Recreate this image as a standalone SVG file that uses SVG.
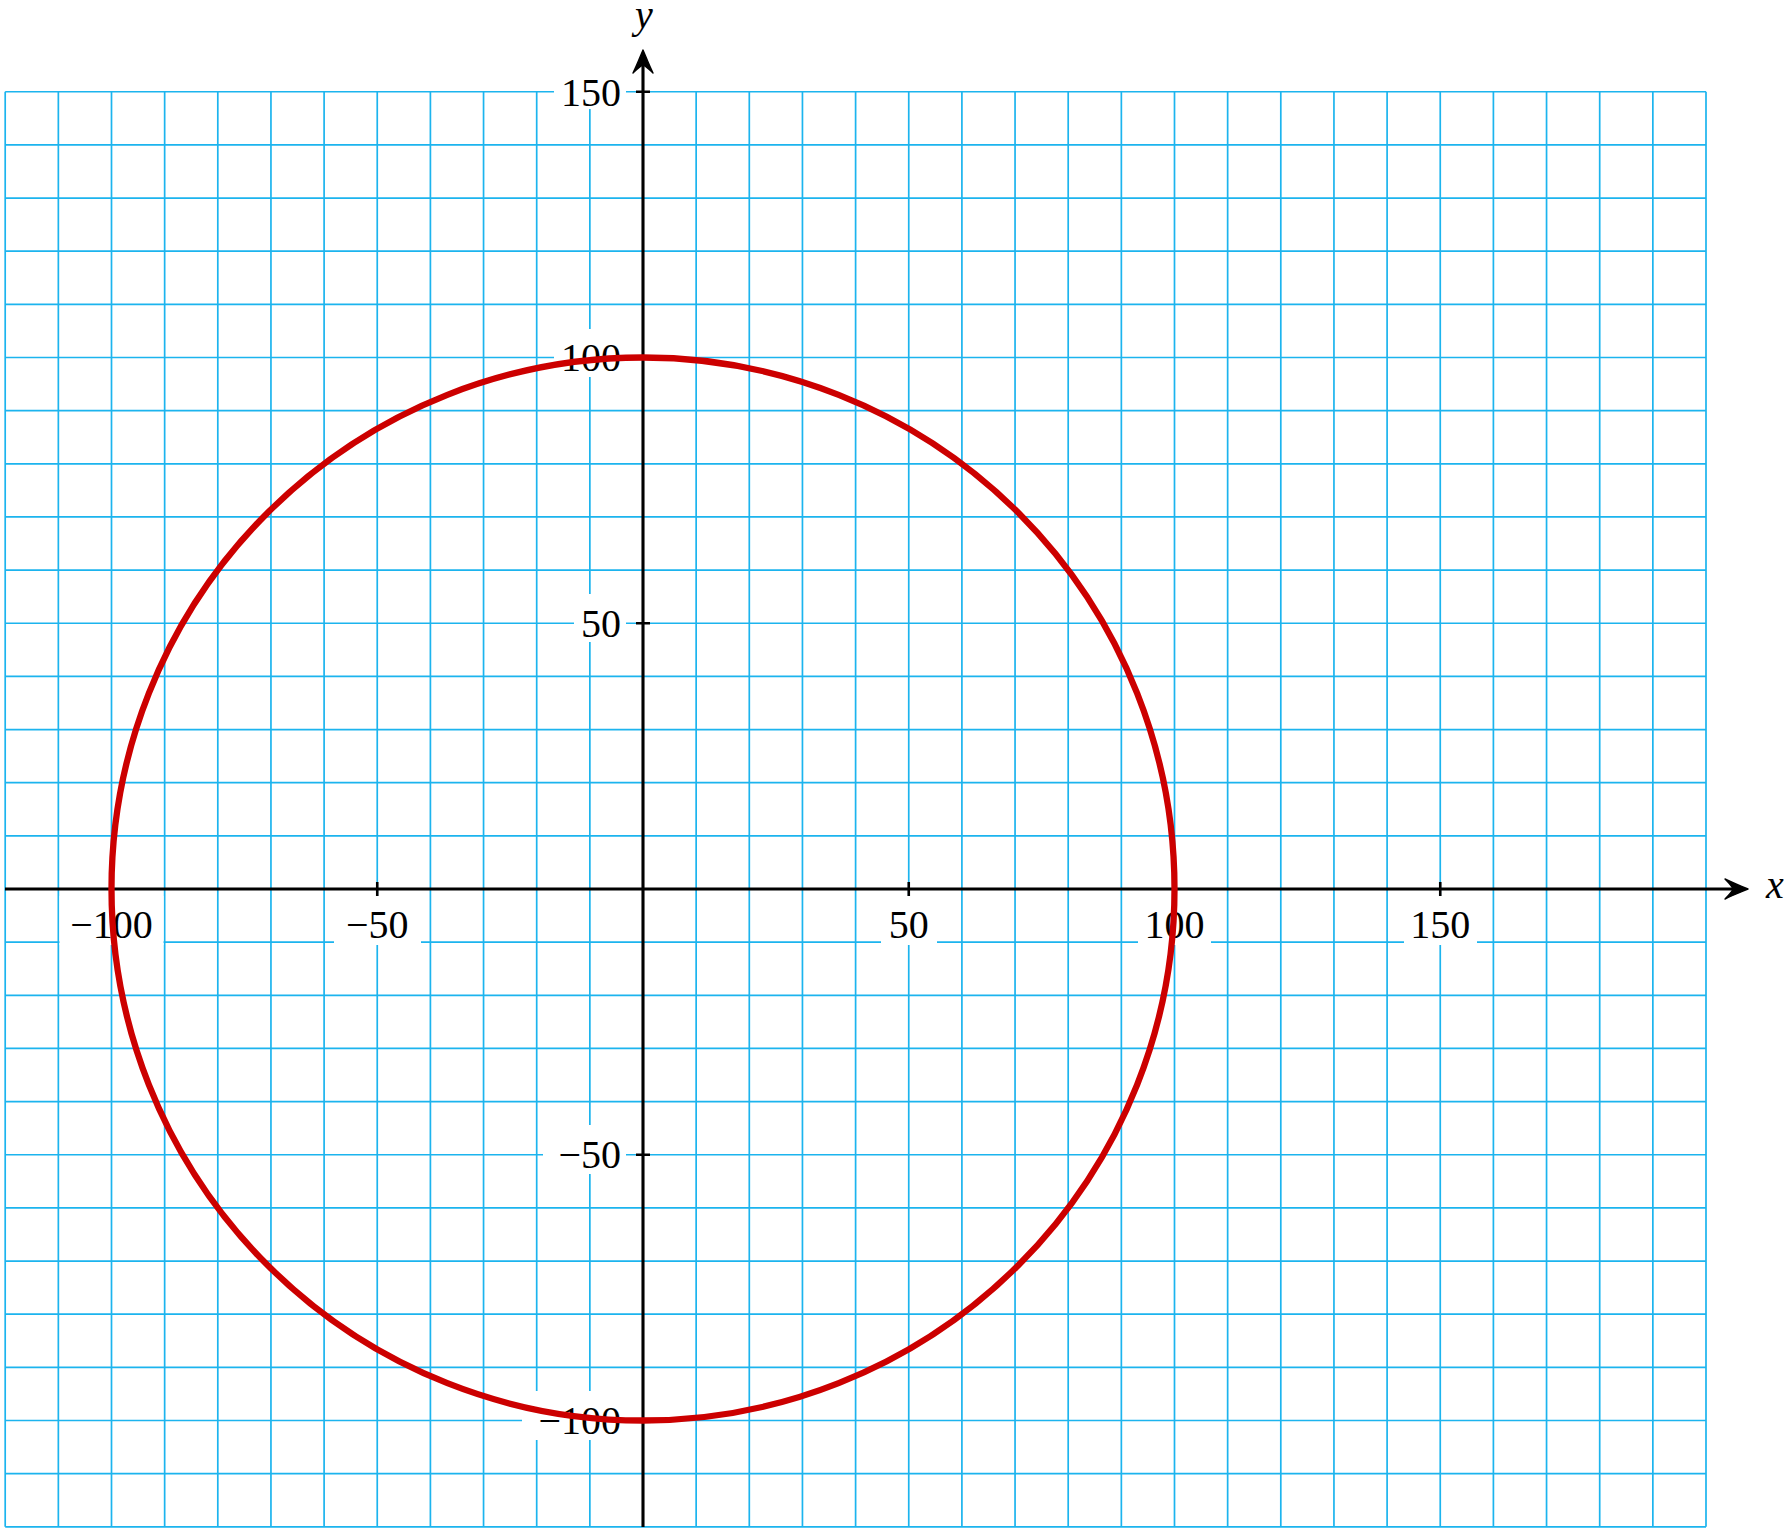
<svg xmlns="http://www.w3.org/2000/svg" width="1792" height="1534" viewBox="0 0 1792 1534">
<style>
.grid{stroke:#1cb4ee;stroke-width:1.7;fill:none}
.axis{stroke:#000;stroke-width:3.1;fill:none}
.tick{stroke:#000;stroke-width:2.6}
.bg{fill:#fff}
.lbl{font-family:"Liberation Serif","DejaVu Serif",serif;font-size:40px;fill:#000}
.ax{font-family:"Liberation Serif","DejaVu Serif",serif;font-size:40px;font-style:italic;fill:#000}
.curve{stroke:#cc0000;stroke-width:6.3;fill:none}
</style>
<defs>
<marker id="arr" viewBox="-24 -12 28 24" refX="0" refY="0" markerWidth="28" markerHeight="24" markerUnits="userSpaceOnUse" orient="auto">
<path d="M3,0 C-4,-3 -12,-6 -20,-10 Q-13,-3 -12,0 Q-13,3 -20,10 C-12,6 -4,3 3,0 Z" fill="#000" stroke="#000" stroke-width="1.4" stroke-linejoin="round"/>
</marker>
</defs>
<rect width="1792" height="1534" fill="#fff"/>
<g id="grid">
<path class="grid" d="M5.2,91.75V1526.8M58.35,91.75V1526.8M111.5,91.75V1526.8M164.65,91.75V1526.8M217.8,91.75V1526.8M270.95,91.75V1526.8M324.1,91.75V1526.8M377.25,91.75V1526.8M430.4,91.75V1526.8M483.55,91.75V1526.8M536.7,91.75V1526.8M589.85,91.75V1526.8M643,91.75V1526.8M696.15,91.75V1526.8M749.3,91.75V1526.8M802.45,91.75V1526.8M855.6,91.75V1526.8M908.75,91.75V1526.8M961.9,91.75V1526.8M1015.05,91.75V1526.8M1068.2,91.75V1526.8M1121.35,91.75V1526.8M1174.5,91.75V1526.8M1227.65,91.75V1526.8M1280.8,91.75V1526.8M1333.95,91.75V1526.8M1387.1,91.75V1526.8M1440.25,91.75V1526.8M1493.4,91.75V1526.8M1546.55,91.75V1526.8M1599.7,91.75V1526.8M1652.85,91.75V1526.8M1706,91.75V1526.8"/>
<path class="grid" d="M5.2,91.75H1706M5.2,144.9H1706M5.2,198.05H1706M5.2,251.2H1706M5.2,304.35H1706M5.2,357.5H1706M5.2,410.65H1706M5.2,463.8H1706M5.2,516.95H1706M5.2,570.1H1706M5.2,623.25H1706M5.2,676.4H1706M5.2,729.55H1706M5.2,782.7H1706M5.2,835.85H1706M5.2,889H1706M5.2,942.15H1706M5.2,995.3H1706M5.2,1048.45H1706M5.2,1101.6H1706M5.2,1154.75H1706M5.2,1207.9H1706M5.2,1261.05H1706M5.2,1314.2H1706M5.2,1367.35H1706M5.2,1420.5H1706M5.2,1473.65H1706M5.2,1526.8H1706"/>
</g>
<g id="label-backgrounds">
<rect class="bg" x="554" y="73" width="72" height="36"/>
<rect class="bg" x="554" y="329" width="72" height="48"/>
<rect class="bg" x="574" y="594" width="52" height="48"/>
<rect class="bg" x="543" y="1125" width="83" height="49"/>
<rect class="bg" x="522" y="1391" width="104" height="49"/>
<rect class="bg" x="59.5" y="896" width="104" height="49"/>
<rect class="bg" x="334" y="896" width="87" height="49"/>
<rect class="bg" x="881" y="896" width="56" height="49"/>
<rect class="bg" x="1138" y="896" width="73" height="49"/>
<rect class="bg" x="1404" y="896" width="73" height="49"/>
</g>
<g id="connectors">
<line id="x-axis" class="axis" x1="5" y1="889" x2="1745" y2="889" marker-end="url(#arr)"/>
<line id="y-axis" class="axis" x1="643" y1="1527" x2="643" y2="53" marker-end="url(#arr)"/>
<path class="tick" d="M111.5,882V896M377.25,882V896M908.75,882V896M1174.5,882V896M1440.25,882V896M636,91.75H650M636,357.5H650M636,623.25H650M636,1154.75H650M636,1420.5H650"/>
</g>
<g id="labels">
<text class="lbl" x="621" y="105.5" text-anchor="end">150</text>
<text class="lbl" x="621" y="371" text-anchor="end">100</text>
<text class="lbl" x="621" y="636.5" text-anchor="end">50</text>
<text class="lbl" x="621" y="1168" text-anchor="end">−50</text>
<text class="lbl" x="621" y="1434" text-anchor="end">−100</text>
<text class="lbl" x="111.5" y="938" text-anchor="middle">−100</text>
<text class="lbl" x="377.25" y="938" text-anchor="middle">−50</text>
<text class="lbl" x="908.75" y="938" text-anchor="middle">50</text>
<text class="lbl" x="1174.5" y="938" text-anchor="middle">100</text>
<text class="lbl" x="1440.25" y="938" text-anchor="middle">150</text>
<text class="ax" x="1766" y="898">x</text>
<text class="ax" x="644" y="28" text-anchor="middle">y</text>
</g>
<g id="circle">
<circle class="curve" cx="643" cy="889" r="531.5"/>
</g>
</svg>
